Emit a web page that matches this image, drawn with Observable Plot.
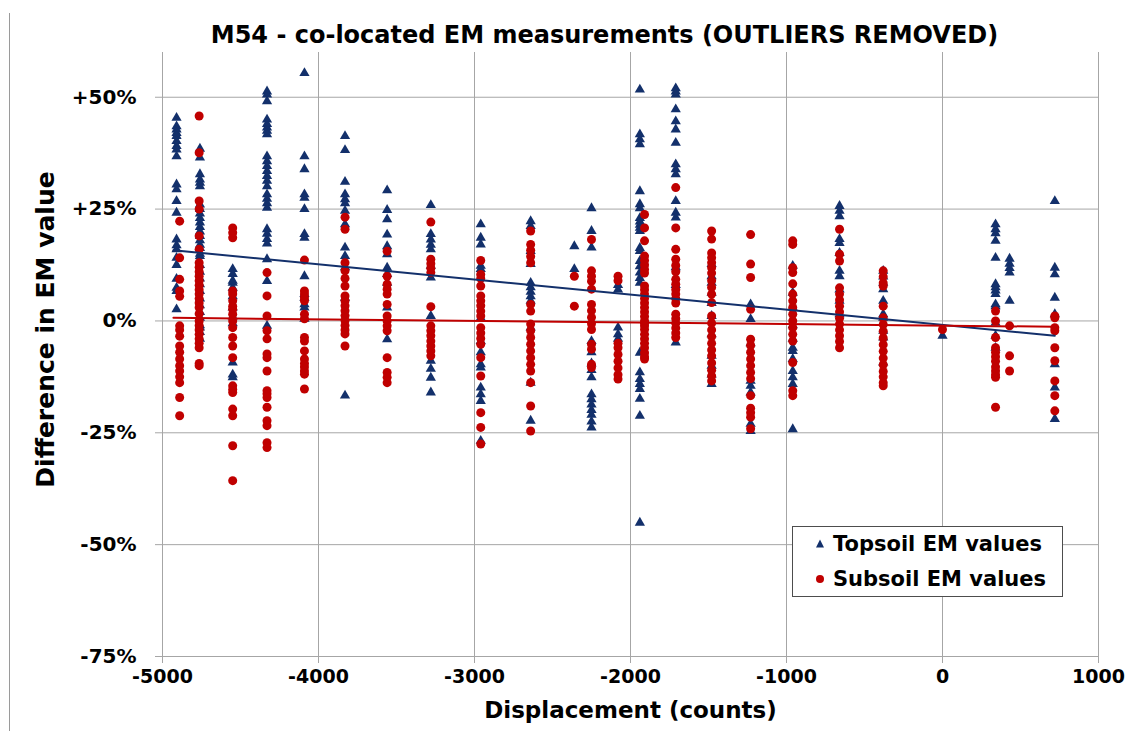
<!DOCTYPE html>
<html>
<head>
<meta charset="utf-8">
<script src="https://cdn.jsdelivr.net/npm/d3@7"></script>
<script src="https://cdn.jsdelivr.net/npm/@observablehq/plot@0.6"></script>
<style>
  body { margin: 0; background: #fff; }
  #wrap { position: relative; width: 1125px; height: 731px; overflow: hidden; background: #fff; font-family: "DejaVu Sans", sans-serif; }
  #title { height: 50px; box-sizing: border-box; padding-top: 23px; padding-left: 84px; text-align: center; font-weight: bold; font-size: 24px; line-height: 24px; color: #000; white-space: nowrap; }
  #edge { position: absolute; left: 9px; top: 13px; width: 1px; height: 718px; background: #9a9a9a; }
  #legend { position: absolute; left: 792px; top: 526px; width: 269px; height: 69px; border: 1px solid #4d4d4d; background: #fff; }
  .row { position: absolute; left: 0; height: 30px; display: flex; align-items: center; font-weight: bold; font-size: 21px; color: #000; white-space: nowrap; }
  .row svg { margin-left: 21px; margin-right: 7px; }
</style>
</head>
<body>
<div id="wrap">
  <div id="edge"></div>
  <div id="title">M54 - co-located EM measurements (OUTLIERS REMOVED)</div>
  <div id="chart"></div>
  <div id="legend">
    <div class="row" style="top:2px"><svg width="12" height="12"><path id="legTri" d="M6,1.5L10,9.5L2,9.5Z"></path></svg><span>Topsoil EM values</span></div>
    <div class="row" style="top:37px"><svg width="12" height="12"><circle id="legDot" cx="6" cy="6" r="4"></circle></svg><span>Subsoil EM values</span></div>
  </div>
</div>
<script>
// ---- Data (values in %) ----
const xTicks = [-5000, -4000, -3000, -2000, -1000, 0, 1000];
const yTicks = [-75, -50, -25, 0, 25, 50];

const topsoilCounts = [-4910, -4760, -4550, -4330, -4090, -3830, -3560, -3280, -2960, -2640, -2360, -2250, -2080, -1940, -1710, -1480, -1230, -960, -660, -380, 0, 340, 430, 720];
const topsoilValues = [
  [45.4, 43.5, 42.8, 42, 41.3, 40.2, 39.1, 38.3, 36.8, 30.5, 29.4, 26.8, 24.2, 18.2, 16.9, 16, 14.1, 12.5, 9.4, 7.4, 6.7, 2.6],
  [38.5, 36.5, 32.8, 31.6, 30.9, 30.1, 26, 25, 24, 23, 22, 21, 20, 19, 18, 17, 16.3, 15, 14.5, 12.5, 11, 9.5, 8.2, 6.7, 5, 3.5, 2, 0.7, -1, -1.5, -2.5, -4],
  [11.6, 10.5, 9, 8.5, 7.4, 5.5, 3, 1, -0.5, -9.3, -12, -12.6],
  [51.3, 50.6, 49.1, 45, 44, 43.2, 42.5, 41.7, 36.8, 35.7, 34.6, 33.5, 32.4, 31.3, 30.1, 28.3, 27.3, 26.3, 25.3, 20.5, 19.5, 18.3, 17.3, 13.8, 8.9, -1.1],
  [55.4, 36.8, 33.9, 28.3, 27.5, 25, 19.4, 18.6, 10, 6, 5.2, 3.7, 3, 0.5],
  [41.3, 38.2, 31.1, 28.3, 27.2, 26.3, 24.6, 21.6, 16.4, 14.5, 12, 5.2, -16.7],
  [29.2, 24.8, 22.7, 19.3, 16.7, 14.9, 11.9, 10.5, 8.5, 3, -4.1],
  [25.9, 19.4, 18.2, 17, 16, 12.3, 9.7, 1.1, -8.9, -10.7, -12.7, -16],
  [21.6, 18.6, 17.1, 12.3, 11.6, 0.7, -4.5, -7, -9.7, -10.4, -14.9, -16.4, -17.9, -26.8],
  [22.3, 21.2, 15.6, 12.7, 8.5, 7.5, 6.5, 5.5, 4.5, -1.5, -13.8, -22.3],
  [16.7, 11.6],
  [25.2, 20.1, 16.4, -4.5, -7, -9.5, -11, -12.6, -16.4, -17.5, -18.7, -19.9, -21, -22.5, -23.8],
  [8, 7, -1.5, -3, -4],
  [51.7, 41.7, 40.6, 39.5, 29, 26.1, 25.2, 23, 22.2, 21.5, 20.8, 20.1, 16.3, 15.6, 13.4, 12.2, 10.8, 9.6, 8.5, -7.1, -11.5, -13, -14.1, -15.2, -17.4, -21.2, -45.1],
  [52, 51.3, 50.6, 47.3, 44.6, 42.8, 39.8, 35, 33.9, 32.8, 26.8, 24.2, 23.1, 12, 8, -4.8],
  [12.7, 10, 8.5, 6.3, 4, 1.1, -3, -7.8, -10, -12, -14.1],
  [3.7, 0.4, -5, -13.4, -14.5, -16, -23, -24.6],
  [12.3, 6.3, 3, -1, -4, -6, -6.7, -8.5, -11.2, -12.6, -14.1, -24.2],
  [25.7, 24.6, 23.4, 18.3, 17.4, 15.2, 11.2, 10, 7, 4.5, 1.5],
  [11.2, 9.9, 8.5, 7.1, 4.5, 1.5, 0.7, -2.2, -3.7, -9.3],
  [-3.3],
  [21.6, 20.5, 19.6, 17.9, 14.1, 8.2, 7.5, 6.8, 6, 3.7, 3.3, -0.4, -3.3, -6],
  [13.9, 12.8, 11.8, 10.8, 4.5],
  [26.8, 11.9, 10.4, 5.2, 1.5, -9.7, -14.9, -21.9]
];

const subsoilCounts = [-4890, -4765, -4550, -4330, -4090, -3830, -3560, -3280, -2960, -2640, -2360, -2250, -2080, -1910, -1710, -1480, -1230, -960, -660, -380, 0, 340, 430, 720];
const subsoilValues = [
  [22.3, 14.1, 9.3, 6.7, 5.5, -1.1, -2, -3.4, -5.6, -7, -8.5, -10, -11.2, -12.5, -13.8, -17.1, -21.2],
  [45.8, 37.6, 26.8, 25, 19, 16, 13, 12, 11, 10, 9, 8, 7, 6, 5, 4, 3, 1.6, 0, -1, -2, -3, -4, -5, -6, -9.5, -10],
  [20.8, 19.7, 18.6, 6.7, 6, 4.5, 3.3, 2.6, 1.5, 0, -1.5, -3.7, -5.6, -8.2, -14.5, -15.3, -16, -19.7, -21.2, -27.9, -35.7],
  [10.8, 5.6, 1.1, -2.2, -4, -7.4, -8.2, -11.2, -15.6, -16.3, -17.1, -19.3, -22.3, -23.4, -27.2, -28.3],
  [13.6, 6.7, 6, 5.2, 4.5, 1.5, 0.5, -3.7, -4.5, -6.7, -8.5, -9.5, -10.3, -11.2, -11.9, -15.2],
  [23.2, 20.5, 13, 11.2, 9.5, 7.8, 5.6, 4.5, 3.4, 2.3, 1.2, 0.1, -1, -2, -2.9, -5.6],
  [15.6, 10, 8.2, 7.1, 6, 3.7, 1.1, 0, -1.1, -2.2, -8.2, -11.5, -12.6, -13.8],
  [22.1, 13.8, 12.8, 11.8, 10.8, 3.2, -1.1, -2.2, -3.3, -4.5, -5.6, -6.7, -7.8],
  [13.5, 10.4, 9.5, 7.8, 5.6, 4.5, 3.4, 2.2, 1.1, -1.5, -2.7, -3.9, -5.2, -8.2, -12.3, -20.5, -23.8, -27.5],
  [20.1, 17.1, 15.8, 14.4, 13, 3.7, 2.2, -0.7, -2.2, -3.7, -5.2, -6.7, -8.2, -9.7, -11.2, -13.8, -19, -24.6],
  [10, 3.3],
  [18.2, 11.2, 10, 8.9, 7.1, 3.7, 2.3, 0.8, -0.6, -1.9, -5.2, -6.3, -9.7, -10.4],
  [10, 9, -5, -6, -7.5, -9, -10.5, -12, -13],
  [23.8, 20.8, 17.9, 14.5, 13.5, 12.5, 11.5, 10.7, 7.8, 7, 6, 5, 4, 3, 2, 1, 0, -0.5, -1.1, -1.9, -3, -4, -5, -6, -7.1, -8, -8.5],
  [29.8, 20.8, 16, 13.8, 12.4, 11, 9.3, 8.2, 7, 6, 5, 4, 1.5, 0.5, -0.5, -1.6, -2.7, -3.7],
  [20.1, 18.3, 15.2, 14.1, 13, 11.9, 10.7, 9, 7.5, 6, 4.1, 1.1, -0.5, -2, -3.5, -5, -6.5, -7.8, -9.4, -11, -12.3, -13.4],
  [19.3, 12.7, 9.7, 2.6, -4.1, -5.5, -7, -8.5, -10, -11.5, -12.9, -16.7, -19.5, -20.5, -21.5, -24.1],
  [17.9, 17.1, 11.9, 10.8, 8.3, 6, 4.5, 3, 1.5, 0, -1.5, -3, -4.5, -9.3, -15.6, -16.7],
  [20.5, 14.9, 13.4, 7.4, 6, 4.7, 3.3, 2, 0.6, -0.7, -2, -3.3, -4.6, -6],
  [11.2, 9.9, 8.5, 7.8, 3.3, 0.7, -0.8, -2.3, -3.8, -5.3, -6.8, -8.3, -9.8, -11.3, -12.5, -13.8, -14.5],
  [-1.9],
  [2.2, 0, -3.7, -6, -7, -8, -9, -10.3, -11.2, -12, -12.6, -19.3],
  [-1.1, -7.8, -11.2],
  [1.1, 0.7, -1.5, -2.2, -6, -8.9, -13.4, -16.7, -20.1]
];

// trend line end points
const topsoilTrendX = [-4930, 720];
const topsoilTrendY = [15.8, -3.3];
const subsoilTrendX = [-4930, 720];
const subsoilTrendY = [0.7, -1.3];

const navy = "#13306b";
const red = "#c00000";
const gridColor = "#a6a6a6";

// ---- Build tables ----
const topsoil = topsoilCounts.flatMap((c, i) => topsoilValues[i].map(v => ({x: c, y: v})));
const subsoil = subsoilCounts.flatMap((c, i) => subsoilValues[i].map(v => ({x: c, y: v})));
const topTrend = topsoilTrendX.map((x, i) => ({x, y: topsoilTrendY[i]}));
const subTrend = subsoilTrendX.map((x, i) => ({x, y: subsoilTrendY[i]}));

document.getElementById("legTri").setAttribute("fill", navy);
document.getElementById("legDot").setAttribute("fill", red);

const chart = Plot.plot({
  width: 1125,
  height: 681,
  marginTop: 2,
  marginLeft: 162,
  marginRight: 27,
  marginBottom: 75,
  style: {fontFamily: "DejaVu Sans", background: "transparent", color: "#000", overflow: "visible"},
  x: {domain: [-5000, 1000]},
  y: {domain: [-75, 60]},
  marks: [
    Plot.gridY(yTicks, {stroke: gridColor, strokeOpacity: 1, strokeWidth: 1}),
    Plot.gridX(xTicks, {stroke: gridColor, strokeOpacity: 1, strokeWidth: 1}),
    Plot.axisX({ticks: xTicks, tickSize: 7, tickPadding: 6, stroke: gridColor, fill: "#000",
      fontSize: 19, fontWeight: "bold", tickFormat: d => String(d), label: null}),
    Plot.axisY({ticks: yTicks, tickSize: 7, tickPadding: 19, stroke: gridColor, fill: "#000",
      fontSize: 20, fontWeight: "bold", tickFormat: d => (d > 0 ? "+" : "") + d + "%", label: null}),
    Plot.dot(topsoil, {x: "x", y: "y", symbol: "triangle", fill: navy, r: 3.8}),
    Plot.dot(subsoil, {x: "x", y: "y", symbol: "circle", fill: red, r: 4.5}),
    Plot.line(topTrend, {x: "x", y: "y", stroke: navy, strokeWidth: 2}),
    Plot.line(subTrend, {x: "x", y: "y", stroke: red, strokeWidth: 2}),
    Plot.text(["Displacement (counts)"], {text: d => d, frameAnchor: "bottom", dy: 61, fontSize: 23, fontWeight: "bold", fill: "#000"}),
    Plot.text(["Difference in EM value"], {text: d => d, frameAnchor: "left", textAnchor: "middle", dx: -117, dy: -25, rotate: -90, fontSize: 25, fontWeight: "bold", fill: "#000"})
  ]
});
document.getElementById("chart").appendChild(chart);
</script>
</body>
</html>
